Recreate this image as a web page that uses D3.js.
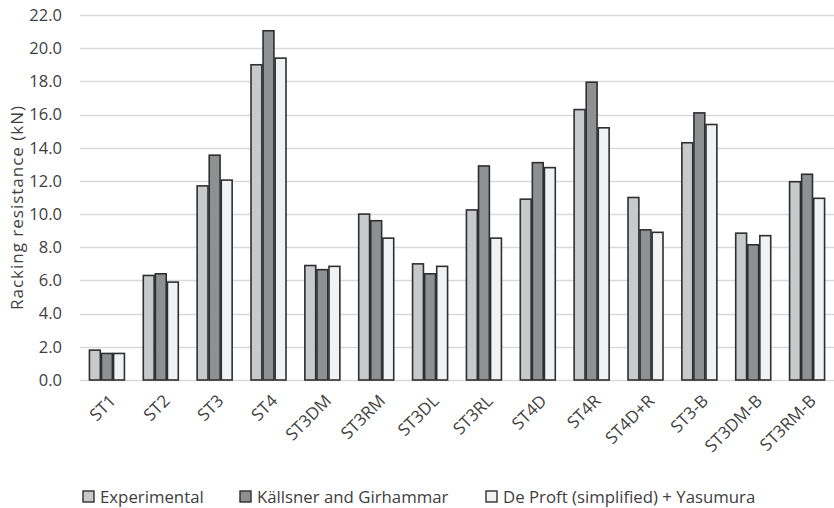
<!DOCTYPE html>
<html>
<head>
<meta charset="utf-8">
<script src="https://cdn.jsdelivr.net/npm/d3@7"></script>
<style>
  body { margin: 0; background: #fff; }
  svg text { font-family: "Open Sans", "Noto Sans", sans-serif; fill: #404040; }
</style>
</head>
<body>
<svg id="chart" width="834" height="508"></svg>
<script>
// data
var categories = ["ST1", "ST2", "ST3", "ST4", "ST3DM", "ST3RM", "ST3DL", "ST3RL",
                  "ST4D", "ST4R", "ST4D+R", "ST3-B", "ST3DM-B", "ST3RM-B"];
var seriesNames = ["Experimental", "Källsner and Girhammar", "De Proft (simplified) + Yasumura"];
var experimental = [1.8, 6.3, 11.7, 19.0, 6.9, 10.0, 7.0, 10.25, 10.9, 16.3, 11.0, 14.3, 8.85, 11.95];
var kallsner     = [1.6, 6.4, 13.55, 21.05, 6.65, 9.6, 6.4, 12.9, 13.1, 17.95, 9.05, 16.1, 8.15, 12.4];
var deProft      = [1.6, 5.9, 12.05, 19.4, 6.85, 8.55, 6.85, 8.55, 12.8, 15.2, 8.9, 15.4, 8.7, 10.95];
var yTicks = [0, 2, 4, 6, 8, 10, 12, 14, 16, 18, 20, 22];
var colors = ["#c8c9cb", "#8f9092", "#f1f2f4"];

var allSeries = [experimental, kallsner, deProft];

var svg = d3.select("#chart"),
    margin = { top: 15, right: 0, bottom: 128, left: 80 },
    width = +svg.attr("width") - margin.left - margin.right,
    height = +svg.attr("height") - margin.top - margin.bottom;

var x = d3.scaleBand().domain(categories).range([0, width]).paddingInner(0.35).paddingOuter(0.175);
var xs = d3.scaleBand().domain([0, 1, 2]).range([0, x.bandwidth()]).paddingInner(0.1);
var y = d3.scaleLinear().domain([0, 22]).range([height, 0]);

var g = svg.append("g")
  .attr("transform", "translate(" + margin.left + "," + margin.top + ")");

// gridlines
g.append("g")
  .selectAll("line")
  .data(yTicks)
  .enter().append("line")
  .attr("x1", 0)
  .attr("x2", width)
  .attr("y1", function(d) { return Math.round(y(d)) + 0.5; })
  .attr("y2", function(d) { return Math.round(y(d)) + 0.5; })
  .attr("stroke", "#d9d9d9")
  .attr("stroke-width", 1.5);

// y axis labels
var yAxis = g.append("g")
  .call(d3.axisLeft(y).tickValues(yTicks).tickFormat(d3.format(".1f")).tickSize(0).tickPadding(18));
yAxis.select(".domain").remove();
yAxis.selectAll("text").attr("font-size", 16.5).style("fill", "#404040")
  .style("font-family", "'Open Sans', sans-serif");

svg.append("text")
  .attr("transform", "translate(23,208) rotate(-90)")
  .attr("text-anchor", "middle")
  .attr("font-size", 17)
  .attr("textLength", 204)
  .text("Racking resistance (kN)");

// bars
var groups = g.selectAll(".group")
  .data(categories)
  .enter().append("g")
  .attr("class", "group")
  .attr("transform", function(d) { return "translate(" + x(d) + ",0)"; });

groups.selectAll("rect")
  .data(function(d, i) { return allSeries.map(function(s, k) { return { k: k, v: s[i] }; }); })
  .enter().append("rect")
  .attr("x", function(d) { return xs(d.k); })
  .attr("y", function(d) { return y(d.v); })
  .attr("width", xs.bandwidth())
  .attr("height", function(d) { return height - y(d.v); })
  .attr("fill", function(d) { return colors[d.k]; })
  .attr("stroke", "#2f2f2f")
  .attr("stroke-width", 1.6);

// x axis labels
var xAxis = g.append("g")
  .attr("transform", "translate(0," + height + ")")
  .call(d3.axisBottom(x).tickSize(0).tickPadding(0));
xAxis.select(".domain").remove();
xAxis.selectAll("text")
  .attr("font-size", 17)
  .style("fill", "#404040")
  .attr("text-anchor", "end")
  .attr("dy", 0)
  .attr("transform", "translate(10,22) rotate(-45)");

// legend
var legendX = [83, 240, 486];
var legend = svg.append("g")
  .selectAll("g")
  .data(seriesNames)
  .enter().append("g")
  .attr("transform", function(d, i) { return "translate(" + legendX[i] + ",491)"; });

legend.append("rect")
  .attr("width", 11)
  .attr("height", 11)
  .attr("fill", function(d, i) { return colors[i]; })
  .attr("stroke", "#2f2f2f")
  .attr("stroke-width", 1.4);

legend.append("text")
  .attr("x", 17)
  .attr("y", 11.5)
  .attr("font-size", 16.8)
  .text(function(d) { return d; });
</script>
</body>
</html>
